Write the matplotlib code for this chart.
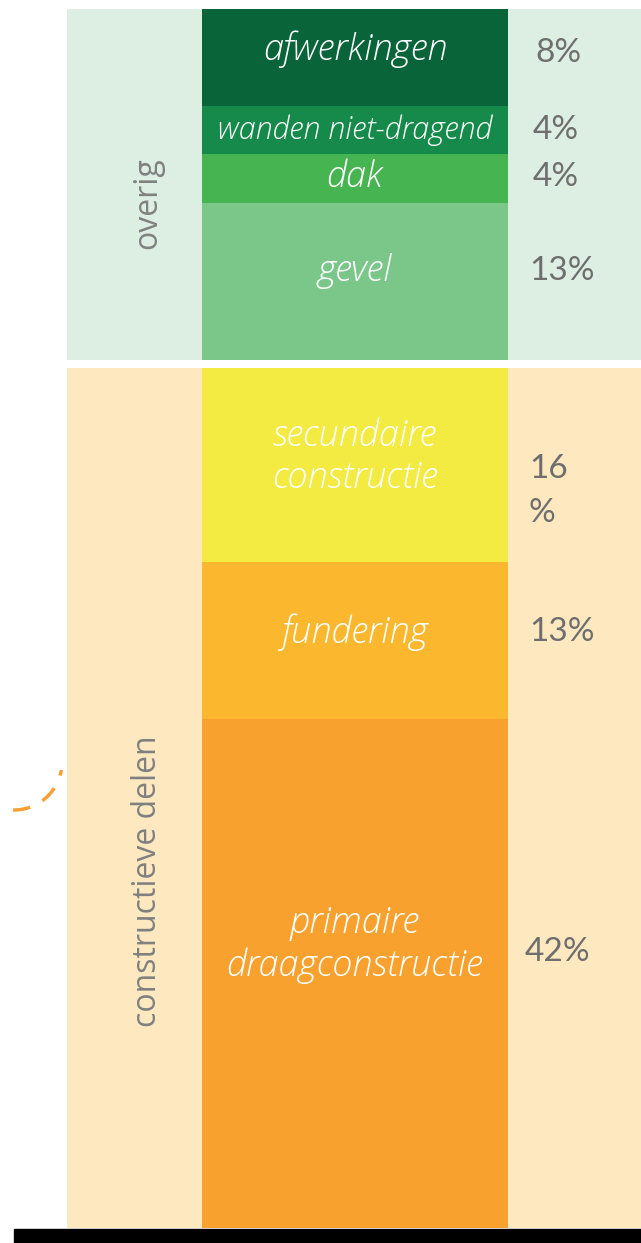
import numpy as np
import matplotlib.pyplot as plt
from matplotlib.patches import Arc

# segments from bottom to top
groups = ['constructieve delen', 'overig']
group_items = [
    ['primaire\ndraagconstructie', 'fundering', 'secundaire\nconstructie'],
    ['gevel', 'dak', 'wanden niet-dragend', 'afwerkingen'],
]
group_values = [
    [42, 13, 16],
    [13, 4, 4, 8],
]
pct_labels = [
    ['42%', '13%', '16\n%'],
    ['13%', '4%', '4%', '8%'],
]

seg_colors = [
    ['#f9a12f', '#fbb72e', '#f3ea42'],
    ['#7bc78a', '#46b450', '#168a4a', '#09643a'],
]
panel_colors = ['#fde8c0', '#ddefe2']
# label nudges in % units (positive = up)
name_shift = [[2.4, 0.65, 0.6], [0.9, 0.1, 0.0, 0.7]]
pct_shift = [[1.8, 0.65, -2.2], [0.9, 0.1, 0.0, 0.35]]
pct_x = [[525, 529, 529], [529, 533, 533, 535]]
group_shift = [-6.9, -1.5]
name_size = [[26, 26, 26], [26, 26, 22, 26]]

gap = 0.6
W, H = 641, 1243
fig = plt.figure(figsize=(W / 100, H / 100), dpi=100)
ax = fig.add_axes([0, 15 / H, 1, 1219 / H])
ax.set_xlim(0, W)
ax.set_ylim(0, sum(map(sum, group_values)) + gap)
ax.axis('off')

bar_x, bar_w = 355, 306
panel_left, panel_w = 67, W - 67

base = 0
for g, name in enumerate(groups):
    total = sum(group_values[g])
    ax.bar(panel_left, total, width=panel_w, bottom=base, align='edge',
           color=panel_colors[g], linewidth=0)
    ax.text(148, base + total / 2 + group_shift[g], name, rotation=90,
            ha='center', va='center', fontsize=23, color='#7f8080',
            family='Open Sans')
    b = base
    for i, v in enumerate(group_values[g]):
        ax.bar(bar_x, v, width=bar_w, bottom=b, color=seg_colors[g][i],
               linewidth=0)
        ax.text(bar_x, b + v / 2 + name_shift[g][i], group_items[g][i],
                ha='center', va='center', fontsize=name_size[g][i],
                style='italic', weight='light', color='white',
                family='Open Sans', linespacing=1.22)
        ax.text(pct_x[g][i], b + v / 2 + pct_shift[g][i], pct_labels[g][i],
                ha='left', va='center', fontsize=24, color='#6e6e6e',
                family='Lato', linespacing=1.6)
        b += v
    base += total + gap

# black baseline strip
fig.patches.append(plt.Rectangle((14 / W, 0), 1, 14 / H, color='black',
                                 transform=fig.transFigure, zorder=5))

# dashed arc on the left
arc = Arc((14 / W, (H - 762) / H), 96 / W, 96 / H, theta1=268, theta2=355,
          transform=fig.transFigure, color='#f7a035', lw=2.5,
          linestyle=(0, (5, 4)))
fig.patches.append(arc)

fig.savefig('out.png', dpi=100)
